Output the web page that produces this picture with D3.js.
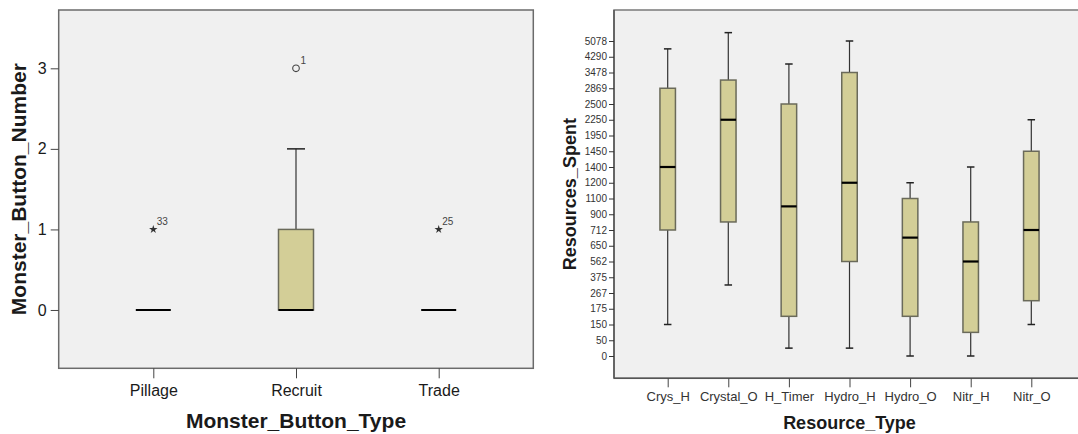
<!DOCTYPE html>
<html>
<head>
<meta charset="utf-8">
<script src="https://cdn.jsdelivr.net/npm/d3@7"></script>
<style>
	body{margin:0;background:#fff;font-family:'Liberation Sans',Arial,sans-serif;}
	svg text{fill:#1a1a1a;}
</style>
</head>
<body>
<script>
var buttonTypes = ['Pillage','Recruit','Trade'];
var buttonTicks = [0,1,2,3];
var buttonMin = [0,0,0];
var buttonQ1 = [0,0,0];
var buttonMedian = [0,0,0];
var buttonQ3 = [0,1,0];
var buttonMax = [0,2,0];
var buttonOutlierTypes = ['Pillage','Recruit','Trade'];
var buttonOutlierValues = [1,3,1];
var buttonOutlierCases = ['33','1','25'];
var buttonOutlierKinds = ['extreme','outlier','extreme'];

var resourceTypes = ['Crys_H','Crystal_O','H_Timer','Hydro_H','Hydro_O','Nitr_H','Nitr_O'];
var resourceTicks = [0,50,150,175,267,375,562,650,712,900,1100,1200,1400,1450,1950,2250,2500,2869,3478,4290,5078];
var resourceMin = [150,322,25,25,0,0,150];
var resourceQ1 = [712,808,163,562,163,100,222];
var resourceMedian = [1400,2250,1000,1200,682,562,712];
var resourceQ3 = [2869,3186,2500,3478,1100,808,1450];
var resourceMax = [4684,5496,3916,5078,1200,1400,2250];

var width = 1078;
var height = 434;
var boxFill = '#d3ce97';
var plotFill = '#f0f0f0';

var canvas = d3.select('body')
				.append('svg')
				.attr('width',width)
				.attr('height',height);

function drawBoxes(g,cats,mins,q1s,meds,q3s,maxs,x,y,boxW,capW){
	var rows = cats.map(function(c,i){
		return {cat:c,min:mins[i],q1:q1s[i],med:meds[i],q3:q3s[i],max:maxs[i]};
	});
	var box = g.selectAll('g.box')
				.data(rows)
				.enter()
				.append('g')
				.attr('class','box');
	box.filter((d)=>d.max>d.q3)
		.append('line')
		.attr('x1',(d)=>x(d.cat))
		.attr('x2',(d)=>x(d.cat))
		.attr('y1',(d)=>y(d.q3))
		.attr('y2',(d)=>y(d.max))
		.attr('stroke','#333')
		.attr('stroke-width',1.2);
	box.filter((d)=>d.min<d.q1)
		.append('line')
		.attr('x1',(d)=>x(d.cat))
		.attr('x2',(d)=>x(d.cat))
		.attr('y1',(d)=>y(d.q1))
		.attr('y2',(d)=>y(d.min))
		.attr('stroke','#333')
		.attr('stroke-width',1.2);
	box.filter((d)=>d.max>d.q3)
		.append('line')
		.attr('x1',(d)=>x(d.cat)-capW/2)
		.attr('x2',(d)=>x(d.cat)+capW/2)
		.attr('y1',(d)=>y(d.max))
		.attr('y2',(d)=>y(d.max))
		.attr('stroke','#222')
		.attr('stroke-width',1.5);
	box.filter((d)=>d.min<d.q1)
		.append('line')
		.attr('x1',(d)=>x(d.cat)-capW/2)
		.attr('x2',(d)=>x(d.cat)+capW/2)
		.attr('y1',(d)=>y(d.min))
		.attr('y2',(d)=>y(d.min))
		.attr('stroke','#222')
		.attr('stroke-width',1.5);
	box.filter((d)=>d.q3>d.q1)
		.append('rect')
		.attr('x',(d)=>x(d.cat)-boxW/2)
		.attr('y',(d)=>y(d.q3))
		.attr('width',boxW)
		.attr('height',(d)=>y(d.q1)-y(d.q3))
		.attr('fill',boxFill)
		.attr('stroke','#6a6a5a')
		.attr('stroke-width',1.5);
	box.append('line')
		.attr('x1',(d)=>x(d.cat)-boxW/2)
		.attr('x2',(d)=>x(d.cat)+boxW/2)
		.attr('y1',(d)=>y(d.med))
		.attr('y2',(d)=>y(d.med))
		.attr('stroke','#000')
		.attr('stroke-width',2.2);
}

// left chart
var left = {l:58.7,r:533.3,t:10,b:368.3};
var xLeft = d3.scalePoint()
				.domain(buttonTypes)
				.range([left.l,left.r])
				.padding(0.663);
var yLeft = d3.scaleLinear()
				.domain([-0.724,3.724])
				.range([left.b,left.t]);
var leftG = canvas.append('g');
leftG.append('rect')
	.attr('x',left.l)
	.attr('y',left.t)
	.attr('width',left.r-left.l)
	.attr('height',left.b-left.t)
	.attr('fill',plotFill)
	.attr('stroke','#6b6b6b')
	.attr('stroke-width',1.5);
leftG.append('g')
	.attr('transform','translate('+left.l+',0)')
	.call(d3.axisLeft(yLeft).tickValues(buttonTicks).tickSize(8).tickPadding(4).tickFormat(d3.format('d')))
	.call((g)=>g.select('.domain').remove())
	.call((g)=>g.selectAll('text').style('font-size','16px').style('font-family','Liberation Sans, Arial'))
	.call((g)=>g.selectAll('line').attr('stroke','#444'));
leftG.append('g')
	.attr('transform','translate(0,'+left.b+')')
	.call(d3.axisBottom(xLeft).tickSize(10).tickPadding(6))
	.call((g)=>g.select('.domain').remove())
	.call((g)=>g.selectAll('text').style('font-size','16px').style('font-family','Liberation Sans, Arial'))
	.call((g)=>g.selectAll('line').attr('stroke','#444'));
drawBoxes(leftG.append('g'),buttonTypes,buttonMin,buttonQ1,buttonMedian,buttonQ3,buttonMax,xLeft,yLeft,35,18);

var outliers = buttonOutlierTypes.map(function(t,i){
	return {cat:t,value:buttonOutlierValues[i],label:buttonOutlierCases[i],kind:buttonOutlierKinds[i]};
});
var outG = leftG.append('g')
				.selectAll('g')
				.data(outliers)
				.enter()
				.append('g')
				.attr('transform',(d)=>'translate('+xLeft(d.cat)+','+yLeft(d.value)+')');
outG.filter((d)=>d.kind==='outlier')
	.append('circle')
	.attr('r',3.3)
	.attr('fill','none')
	.attr('stroke','#444')
	.attr('stroke-width',1.1);
outG.filter((d)=>d.kind==='extreme')
	.append('path')
	.attr('d',d3.symbol().type(d3.symbolStar).size(22))
	.attr('fill','#333');
outG.append('text')
	.attr('x',(d)=>d.kind==='outlier' ? 4.5 : 3.5)
	.attr('y',-4)
	.style('font-size','10px')
	.style('fill','#444')
	.text((d)=>d.label);

leftG.append('text')
	.attr('x',(left.l+left.r)/2)
	.attr('y',428)
	.attr('text-anchor','middle')
	.style('font-size','21px')
	.style('font-weight','bold')
	.text('Monster_Button_Type');
leftG.append('text')
	.attr('transform','translate(26,'+((left.t+left.b)/2)+') rotate(-90)')
	.attr('text-anchor','middle')
	.style('font-size','21px')
	.style('font-weight','bold')
	.text('Monster_Button_Number');

// right chart
var right = {l:614,r:1085,t:10,b:378.3};
var tickTop = 41;
var tickBottom = 356;
var xRight = d3.scalePoint()
				.domain(resourceTypes)
				.range([right.l,right.r])
				.padding(0.886);
var yRight = d3.scaleLinear()
				.domain(resourceTicks)
				.range(resourceTicks.map((d,i)=>tickBottom-i*(tickBottom-tickTop)/(resourceTicks.length-1)));
var rightG = canvas.append('g');
rightG.append('rect')
	.attr('x',right.l)
	.attr('y',right.t)
	.attr('width',right.r-right.l)
	.attr('height',right.b-right.t)
	.attr('fill',plotFill)
	.attr('stroke','#7a7a7a')
	.attr('stroke-width',1.5);
rightG.append('line')
	.attr('x1',right.l)
	.attr('x2',right.l)
	.attr('y1',right.t)
	.attr('y2',right.b)
	.attr('stroke','#555')
	.attr('stroke-width',1.5);
rightG.append('line')
	.attr('x1',right.l)
	.attr('x2',right.r)
	.attr('y1',right.b)
	.attr('y2',right.b)
	.attr('stroke','#555')
	.attr('stroke-width',1.5);
rightG.append('g')
	.attr('transform','translate('+right.l+',0)')
	.call(d3.axisLeft(yRight).tickValues(resourceTicks).tickSize(5).tickPadding(2).tickFormat((d)=>d))
	.call((g)=>g.select('.domain').remove())
	.call((g)=>g.selectAll('text').style('font-size','10px').style('font-family','Liberation Sans, Arial').style('fill','#333'))
	.call((g)=>g.selectAll('line').attr('stroke','#333'));
rightG.append('g')
	.attr('transform','translate(0,'+right.b+')')
	.call(d3.axisBottom(xRight).tickSize(9).tickPadding(4))
	.call((g)=>g.select('.domain').remove())
	.call((g)=>g.selectAll('text').style('font-size','13px').style('font-family','Liberation Sans, Arial').style('fill','#333'))
	.call((g)=>g.selectAll('line').attr('stroke','#444'));
drawBoxes(rightG.append('g'),resourceTypes,resourceMin,resourceQ1,resourceMedian,resourceQ3,resourceMax,xRight,yRight,15.5,7.5);

rightG.append('text')
	.attr('x',(right.l+right.r)/2)
	.attr('y',429)
	.attr('text-anchor','middle')
	.style('font-size','18px')
	.style('font-weight','bold')
	.text('Resource_Type');
rightG.append('text')
	.attr('transform','translate(576,'+((right.t+right.b)/2)+') rotate(-90)')
	.attr('text-anchor','middle')
	.style('font-size','18px')
	.style('font-weight','bold')
	.text('Resources_Spent');
</script>
</body>
</html>
